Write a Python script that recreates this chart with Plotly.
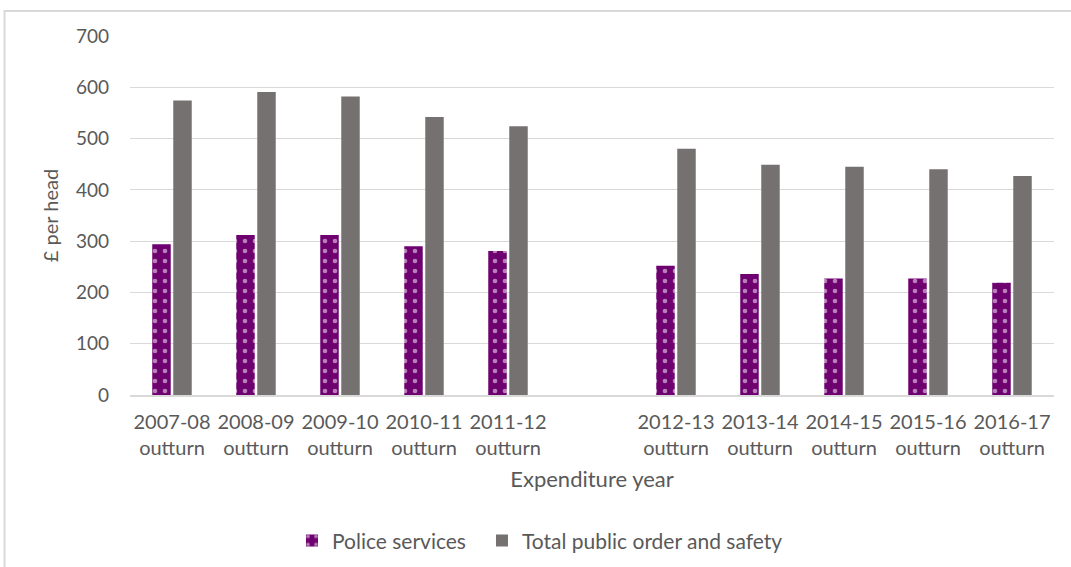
import plotly.graph_objects as go

years = ["2007-08<br>outturn", "2008-09<br>outturn", "2009-10<br>outturn", "2010-11<br>outturn",
         "2011-12<br>outturn", " ", "2012-13<br>outturn", "2013-14<br>outturn", "2014-15<br>outturn",
         "2015-16<br>outturn", "2016-17<br>outturn"]
police = [294, 312, 312, 290, 281, None, 252, 236, 227, 227, 219]
total = [574, 591, 582, 542, 524, None, 480, 449, 445, 440, 427]

PURPLE = "#6E0070"
GREY = "#767171"
TXT = "#595959"
FONT = "Lato"

fig = go.Figure()
fig.add_trace(go.Bar(
    x=years, y=police, name="Police services", legendwidth=145,
    marker=dict(color=PURPLE, line=dict(width=0),
                pattern=dict(shape=".", fgcolor="white", bgcolor=PURPLE, size=10, solidity=0.17)),
))
fig.add_trace(go.Bar(
    x=years, y=total, name="Total public order and safety", legendwidth=280,
    marker=dict(color=GREY, line=dict(width=0)),
))

fig.update_layout(
    width=1071, height=567,
    margin=dict(l=130, r=17, t=36, b=172, autoexpand=False),
    paper_bgcolor="white", plot_bgcolor="white",
    barmode="group", bargap=0.5, bargroupgap=0.12,
    font=dict(family=FONT, color=TXT, size=19),
    showlegend=True,
    legend=dict(orientation="h", x=0.1753, xanchor="left", y=-0.406, yanchor="middle",
                font=dict(size=21, color=TXT), traceorder="normal"),
    xaxis=dict(type="category", categoryorder="array", categoryarray=years, automargin=False,
               showgrid=False, showline=True, linecolor="#d9d9d9", linewidth=1.5,
               ticks="", tickfont=dict(size=20, color=TXT), ticklabelstandoff=8,
               title=dict(text="Expenditure year", font=dict(size=22, color=TXT), standoff=14)),
    yaxis=dict(range=[0, 700], dtick=100, showgrid=True, gridcolor="#d9d9d9", gridwidth=1.2,
               automargin=False,
               zeroline=False, showline=False, ticks="", ticklabelstandoff=20,
               tickfont=dict(size=19, color=TXT),
               title=dict(text="£ per head", font=dict(size=20, color=TXT), standoff=11)),
    shapes=[dict(type="rect", xref="paper", yref="paper",
                 x0=-0.1358, x1=1.2, y0=-0.6, y1=1.0696,
                 line=dict(color="#d9d9d9", width=2), fillcolor="rgba(0,0,0,0)", layer="below")],
)

fig.write_html("out.html", config={"displayModeBar": False},
               post_script="document.body.style.margin='0';")
